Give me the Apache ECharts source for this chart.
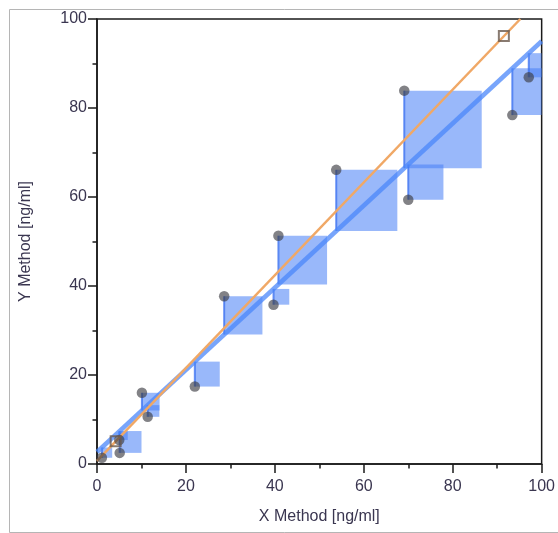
<!DOCTYPE html>
<html>
<head>
<meta charset="utf-8">
<script src="https://cdn.jsdelivr.net/npm/echarts@6/dist/echarts.min.js"></script>
<style>html,body{margin:0;padding:0;background:#fff}#c{width:558px;height:533px}</style>
</head>
<body>
<div id="c"></div>
<script>
// data
var pointsX = [1.1, 5.0, 5.1, 10.1, 11.4, 22.0, 28.6, 39.7, 40.8, 53.8, 69.1, 70.0, 93.4, 97.1];
var pointsY = [1.4, 5.4, 2.5, 16.0, 10.6, 17.4, 37.7, 35.8, 51.3, 66.1, 83.9, 59.4, 78.4, 86.9];
var squareX = [4.2, 91.5];
var squareY = [5.1, 96.2];
var blueLineX = [0, 100];
var blueLineY = [2.7, 95.0];
var orangeLineX = [0, 95.2];
var orangeLineY = [0.7, 100];
var xTicks = [0, 20, 40, 60, 80, 100];
var yTicks = [0, 20, 40, 60, 80, 100];

function zip(a, b) { return a.map(function (v, i) { return [v, b[i]]; }); }
function blueAt(x) {
  var t = (x - blueLineX[0]) / (blueLineX[1] - blueLineX[0]);
  return blueLineY[0] + t * (blueLineY[1] - blueLineY[0]);
}

var chart = echarts.init(document.getElementById('c'));
var font = 'Liberation Sans, Arial, sans-serif';
var axisCommon = {
  type: 'value', min: 0, max: 100, interval: 20,
  axisLine: { show: true, onZero: false, lineStyle: { color: '#1a1a1a', width: 1.5 } },
  axisTick: { show: true, length: 9, lineStyle: { color: '#1a1a1a', width: 1.5 } },
  minorTick: { show: true, splitNumber: 2, length: 4.5, lineStyle: { color: '#1a1a1a', width: 1.5 } },
  splitLine: { show: false },
  axisLabel: { fontSize: 16, color: '#3a3650', fontFamily: font },
  nameLocation: 'middle',
  nameTextStyle: { fontSize: 16, color: '#3a3650', fontFamily: font }
};

chart.setOption({
  animation: false,
  backgroundColor: '#fff',
  graphic: [{
    type: 'rect', left: 7, top: 7, shape: { width: 580, height: 523 },
    style: { fill: 'none', stroke: '#b5b5b5', lineWidth: 1 }, silent: true
  }],
  grid: { left: 97, right: 16, top: 19, bottom: 69, show: true, borderColor: '#1a1a1a', borderWidth: 1.5, backgroundColor: 'transparent' },
  xAxis: Object.assign({}, axisCommon, {
    name: 'X Method [ng/ml]', nameGap: 45,
    axisLabel: Object.assign({}, axisCommon.axisLabel, { margin: 15 })
  }),
  yAxis: Object.assign({}, axisCommon, {
    name: 'Y Method [ng/ml]', nameGap: 63,
    axisLabel: Object.assign({}, axisCommon.axisLabel, { margin: 10 })
  }),
  series: [
    {
      type: 'custom',
      clip: true,
      data: zip(pointsX, pointsY),
      renderItem: function (params, api) {
        var x = api.value(0), y = api.value(1);
        var fy = blueAt(x);
        var side = Math.abs(y - fy);
        var x2 = Math.min(x + side, 100);
        var p1 = api.coord([x, Math.max(y, fy)]);
        var p2 = api.coord([x2, Math.min(y, fy)]);
        var pl1 = api.coord([x, y]);
        var pl2 = api.coord([x, fy]);
        return {
          type: 'group',
          children: [
            { type: 'rect', shape: { x: p1[0], y: p1[1], width: p2[0] - p1[0], height: p2[1] - p1[1] },
              style: { fill: 'rgba(70,125,245,0.55)' } },
            { type: 'line', shape: { x1: pl1[0], y1: pl1[1], x2: pl2[0], y2: pl2[1] },
              style: { stroke: 'rgba(55,110,240,0.75)', lineWidth: 2 } }
          ]
        };
      },
      z: 2
    },
    {
      type: 'line', data: zip(blueLineX, blueLineY), symbol: 'none',
      lineStyle: { color: 'rgba(75,135,250,0.75)', width: 4.5 }, z: 3
    },
    {
      type: 'line', data: zip(orangeLineX, orangeLineY), symbol: 'none',
      lineStyle: { color: '#f0a866', width: 2.5 }, z: 4
    },
    {
      type: 'scatter', data: zip(pointsX, pointsY), symbol: 'circle', symbolSize: 10.5,
      itemStyle: { color: 'rgba(60,60,65,0.8)' }, z: 5
    },
    {
      type: 'scatter', data: zip(squareX, squareY), symbol: 'rect', symbolSize: 10,
      itemStyle: { color: 'rgba(255,255,255,0)', borderColor: '#6b5a4e', borderWidth: 2 }, z: 6
    }
  ]
});
</script>
</body>
</html>
